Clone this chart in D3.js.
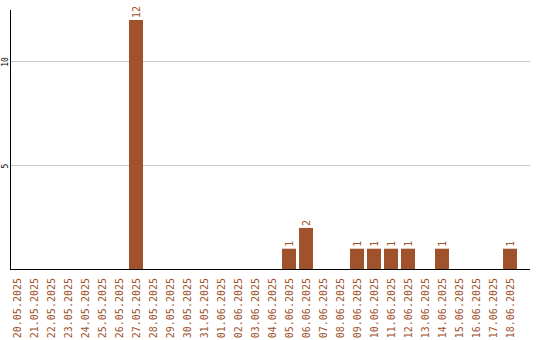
<!DOCTYPE html>
<html>
<head>
<meta charset="utf-8">
<script src="https://cdn.jsdelivr.net/npm/d3@7"></script>
<style>
body { margin: 0; background: #fff; }
svg text { font-family: "DejaVu Sans Mono", monospace; }
</style>
</head>
<body>
<svg id="chart"></svg>
<script>
var dates = ["20.05.2025","21.05.2025","22.05.2025","23.05.2025","24.05.2025","25.05.2025","26.05.2025","27.05.2025","28.05.2025","29.05.2025","30.05.2025","31.05.2025","01.06.2025","02.06.2025","03.06.2025","04.06.2025","05.06.2025","06.06.2025","07.06.2025","08.06.2025","09.06.2025","10.06.2025","11.06.2025","12.06.2025","13.06.2025","14.06.2025","15.06.2025","16.06.2025","17.06.2025","18.06.2025"];
var counts = [0,0,0,0,0,0,0,12,0,0,0,0,0,0,0,0,1,2,0,0,1,1,1,1,0,1,0,0,0,1];
var yTicks = [5, 10];

var width = 540, height = 340;
var barColor = "#a0522d";

var svg = d3.select("#chart").attr("width", width).attr("height", height);

var x = d3.scaleBand()
	.domain(dates)
	.range([8.5, 518.5])
	.paddingInner(3 / 17)
	.paddingOuter(1.5 / 17);

var y = d3.scaleLinear().domain([0, 12]).range([269.5, 20]);

// grid
svg.append("g").selectAll("line")
	.data(yTicks)
	.enter().append("line")
	.attr("x1", 11).attr("x2", 530)
	.attr("y1", function(d) { return Math.round(y(d)) - 0.5; })
	.attr("y2", function(d) { return Math.round(y(d)) - 0.5; })
	.attr("stroke", "#c8c8c8");

// y tick labels
svg.append("g").selectAll("text")
	.data(yTicks)
	.enter().append("text")
	.attr("transform", function(d) { return "translate(7.5," + Math.round(y(d)) + ") rotate(-90)"; })
	.attr("text-anchor", "middle")
	.style("font-size", "8px")
	.attr("fill", "#000")
	.text(function(d) { return d; });

// bars
svg.append("g").selectAll("rect")
	.data(counts)
	.enter().append("rect")
	.attr("x", function(d, i) { return x(dates[i]); })
	.attr("width", x.bandwidth())
	.attr("y", function(d) { return y(d); })
	.attr("height", function(d) { return y(0) - y(d); })
	.attr("fill", barColor);

// value labels
svg.append("g").selectAll("text")
	.data(counts.map(function(d, i) { return { v: d, date: dates[i] }; }).filter(function(d) { return d.v > 0; }))
	.enter().append("text")
	.attr("transform", function(d) {
		return "translate(" + (x(d.date) + x.bandwidth() / 2 + 3.5) + "," + (y(d.v) - 2) + ") rotate(-90)";
	})
	.style("font-size", "10px")
	.attr("fill", barColor)
	.text(function(d) { return d.v; });

// axes lines
svg.append("line")
	.attr("x1", 10.5).attr("x2", 10.5).attr("y1", 10).attr("y2", 270)
	.attr("stroke", "#000");
svg.append("line")
	.attr("x1", 10).attr("x2", 530).attr("y1", 269.5).attr("y2", 269.5)
	.attr("stroke", "#000");

// x labels
svg.append("g").selectAll("text")
	.data(dates)
	.enter().append("text")
	.attr("transform", function(d) {
		return "translate(" + (x(d) + x.bandwidth() / 2 + 3.5) + ",278) rotate(-90)";
	})
	.attr("text-anchor", "end")
	.style("font-size", "10px")
	.attr("fill", barColor)
	.text(function(d) { return d; });
</script>
</body>
</html>
